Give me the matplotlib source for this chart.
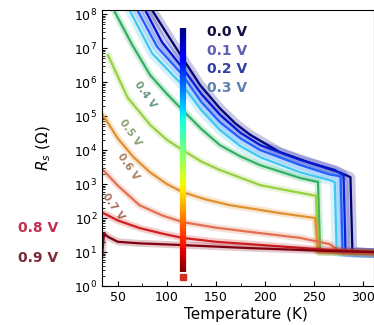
import numpy as np
import matplotlib
matplotlib.use('Agg')
import matplotlib.pyplot as plt
from matplotlib.collections import LineCollection
from matplotlib.ticker import MultipleLocator

# bias voltages and curve colours
biases = ['0.0 V', '0.1 V', '0.2 V', '0.3 V', '0.4 V', '0.5 V', '0.6 V', '0.7 V', '0.8 V', '0.9 V']
colors = ['#000070', '#0010d0', '#2060ff', '#40c8f0', '#30b060',
          '#98d040', '#e09030', '#e07050', '#d02020', '#800010']

# temperature (K) and sheet resistance (Ohm)
T_00 = [85, 101, 116, 134, 154, 170, 185, 215, 246, 276, 287, 289, 311]
R_00 = [1.3e8, 2.4e7, 5.1e6, 8.1e5, 1.7e5, 6.0e4, 2.8e4, 8.7e3, 4.2e3, 2.2e3, 1.6e3, 10, 9.3]
T_01 = [78, 95, 116, 135, 154, 175, 195, 236, 271, 280, 282, 311]
R_01 = [1.3e8, 1.5e7, 2.6e6, 4.5e5, 1.1e5, 3.2e4, 1.4e4, 5.1e3, 2.6e3, 1.8e3, 10, 9.3]
T_02 = [70, 90, 116, 135, 154, 175, 195, 236, 266, 277, 279, 311]
R_02 = [1.3e8, 1.1e7, 1.6e6, 2.6e5, 6.6e4, 2.2e4, 1.0e4, 3.6e3, 1.9e3, 1.7e3, 10, 9.3]
T_03 = [62, 85, 116, 135, 154, 175, 195, 236, 266, 271, 273, 311]
R_03 = [1.3e8, 7.0e6, 8.1e5, 1.5e5, 3.9e4, 1.3e4, 6.2e3, 2.2e3, 1.3e3, 1.15e3, 10, 9.3]
T_04 = [47, 65, 83, 100, 116, 135, 154, 175, 195, 236, 254, 256, 311]
R_04 = [1.15e8, 1.2e7, 1.6e6, 4.5e5, 1.5e5, 4.2e4, 1.4e4, 6.5e3, 3.6e3, 1.5e3, 1.15e3, 10, 9.3]
T_05 = [40, 60, 83, 100, 116, 135, 154, 195, 236, 252, 254, 311]
R_05 = [6.2e6, 3.5e5, 5.5e4, 2.0e4, 1.0e4, 4.6e3, 2.6e3, 930, 550, 450, 10, 9.3]
T_06 = [35, 50, 66, 83, 100, 116, 140, 164, 215, 251, 254, 311]
R_06 = [1.07e5, 2.2e4, 6.2e3, 2.2e3, 1.0e3, 580, 350, 240, 140, 100, 10, 9.3]
T_07 = [35, 50, 72, 95, 116, 150, 185, 236, 266, 277, 311]
R_07 = [2.6e3, 900, 240, 120, 76, 52, 39, 26, 17, 10, 9.3]
T_08 = [35, 50, 72, 95, 116, 150, 185, 256, 311]
R_08 = [141, 85, 51, 35, 26, 20, 17, 12, 10]
T_09 = [34, 36, 40, 50, 72, 116, 185, 266, 311]
R_09 = [7.9, 35, 28, 20, 18, 16, 13, 10.7, 10]

temps = [T_00, T_01, T_02, T_03, T_04, T_05, T_06, T_07, T_08, T_09]
resist = [R_00, R_01, R_02, R_03, R_04, R_05, R_06, R_07, R_08, R_09]

# vertical marker at the transition temperature
T_mark = 116
R_mark = [2.5, 3.9e7]

# labels written along the middle curves
curve_labels = ['0.4 V', '0.5 V', '0.6 V', '0.7 V']
label_T = [78, 63, 60, 45]
label_R = [4.2e5, 3.2e4, 3.2e3, 210]
label_colors = ['#6a9a80', '#8aa070', '#a88060', '#a87060']

fig = plt.figure(figsize=(3.74, 3.25), dpi=100)
ax = fig.add_axes([0.273, 0.12, 0.727, 0.849])

for i, (T, R, c) in enumerate(zip(temps, resist, colors)):
    halo = 7 if i < 4 else 5
    ax.plot(T, R, color=c, lw=halo, alpha=0.22, solid_capstyle='round')
    ax.plot(T, R, color=c, lw=1.6)

# gradient vertical bar
yy = np.logspace(np.log10(R_mark[0]), np.log10(R_mark[1]), 120)
pts = np.column_stack([np.full_like(yy, T_mark), yy]).reshape(-1, 1, 2)
segs = np.concatenate([pts[:-1], pts[1:]], axis=1)
lc = LineCollection(segs, cmap='jet', linewidths=4.5)
lc.set_array(np.linspace(1, 0, len(segs)))
ax.add_collection(lc)
ax.plot([T_mark], [R_mark[0] * 0.75], 's', color='#d03020', ms=4)

for txt, t, r, c in zip(curve_labels, label_T, label_R, label_colors):
    ax.text(t, r, txt, rotation=-55, color=c, fontsize=7.5, fontweight='bold',
            ha='center', va='center')

ax.set_yscale('log')
ax.set_xlim(34, 311)
ax.set_ylim(1, 10 ** 8.12)
ax.set_yticks([10.0 ** k for k in range(9)])
ax.xaxis.set_major_locator(MultipleLocator(50))
ax.xaxis.set_minor_locator(MultipleLocator(25))
ax.tick_params(direction='in', labelsize=9, which='both')
ax.set_xlabel('Temperature (K)', fontsize=11)
ax.set_ylabel('$R_s$ ($\\Omega$)', fontsize=11)
ax.yaxis.set_label_coords(-0.18, 0.5)
ax.xaxis.set_label_coords(0.53, -0.075)

# legend-like coloured labels
legend_colors = ['#101040', '#6060b0', '#3040a0', '#6080b0']
for i, (txt, c) in enumerate(zip(biases[:4], legend_colors)):
    fig.text(207 / 374, 1 - (32 + 18.7 * i) / 325, txt, color=c, fontsize=10,
             fontweight='bold', va='center')
fig.text(18 / 374, 1 - 228 / 325, biases[8], color='#c03050', fontsize=10,
         fontweight='bold', va='center')
fig.text(18 / 374, 1 - 258 / 325, biases[9], color='#802838', fontsize=10,
         fontweight='bold', va='center')

fig.savefig('out.png', dpi=100)
